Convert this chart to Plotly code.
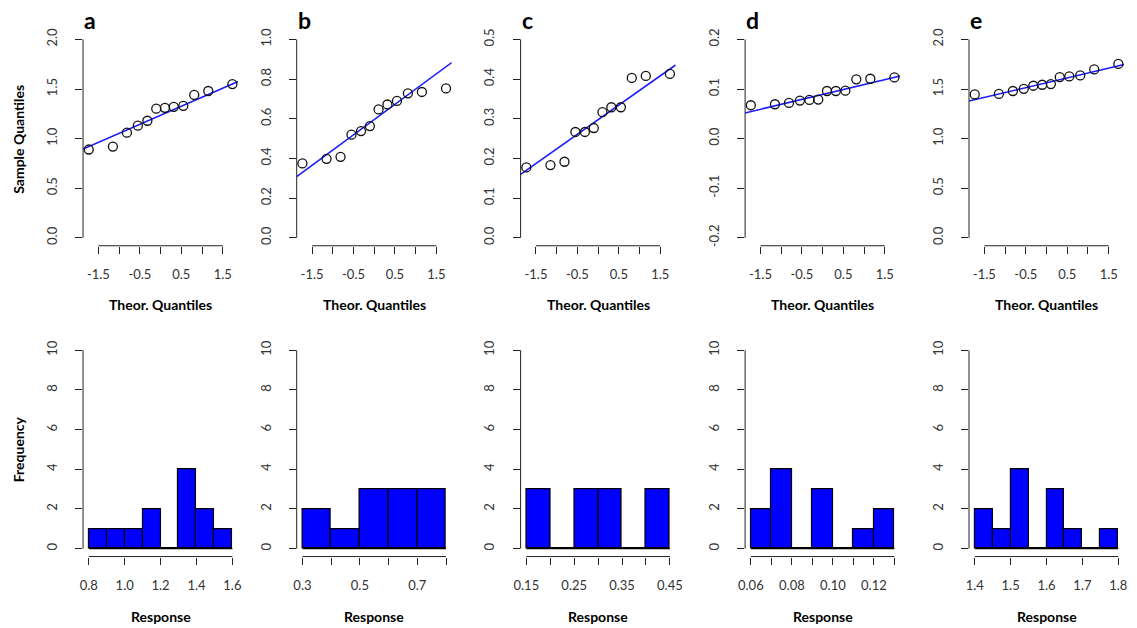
import numpy as np
import plotly.graph_objects as go

# ---------------- data ----------------
PANEL_LETTERS = ["a", "b", "c", "d", "e"]

# theoretical normal quantiles for n = 12 (qnorm(ppoints(12)))
THEOR_Q = [-1.7317, -1.1503, -0.8122, -0.5485, -0.3186, -0.1046,
           0.1046, 0.3186, 0.5485, 0.8122, 1.1503, 1.7317]

# sorted sample values
SAMPLE_A = [0.89, 0.92, 1.06, 1.13, 1.18, 1.302, 1.31, 1.32, 1.33, 1.44, 1.48, 1.55]
SAMPLE_B = [0.375, 0.398, 0.408, 0.52, 0.538, 0.563, 0.647, 0.672, 0.69, 0.728, 0.735, 0.753]
SAMPLE_C = [0.1775, 0.1833, 0.1917, 0.2667, 0.2667, 0.2767, 0.3167, 0.329, 0.329, 0.403, 0.408, 0.413]
SAMPLE_D = [0.0673, 0.0693, 0.072, 0.0767, 0.078, 0.0787, 0.096, 0.096, 0.0967, 0.1195, 0.1207, 0.1233]
SAMPLE_E = [1.445, 1.45, 1.48, 1.502, 1.533, 1.543, 1.55, 1.62, 1.627, 1.637, 1.697, 1.753]

# QQ y-axis ticks
QQ_YTICKS_A = [0.0, 0.5, 1.0, 1.5, 2.0]
QQ_YTICKS_B = [0.0, 0.2, 0.4, 0.6, 0.8, 1.0]
QQ_YTICKS_C = [0.0, 0.1, 0.2, 0.3, 0.4, 0.5]
QQ_YTICKS_D = [-0.2, -0.1, 0.0, 0.1, 0.2]
QQ_YTICKS_E = [0.0, 0.5, 1.0, 1.5, 2.0]
QQ_YLABELS_A = ["0.0", "0.5", "1.0", "1.5", "2.0"]
QQ_YLABELS_B = ["0.0", "0.2", "0.4", "0.6", "0.8", "1.0"]
QQ_YLABELS_C = ["0.0", "0.1", "0.2", "0.3", "0.4", "0.5"]
QQ_YLABELS_D = ["-0.2", "-0.1", "0.0", "0.1", "0.2"]
QQ_YLABELS_E = ["0.0", "0.5", "1.0", "1.5", "2.0"]

QQ_XTICKS = [-1.5, -1.0, -0.5, 0.0, 0.5, 1.0, 1.5]
QQ_XLABELS = ["-1.5", "", "-0.5", "", "0.5", "", "1.5"]

# histogram bins and counts
HIST_EDGES_A = [0.8, 0.9, 1.0, 1.1, 1.2, 1.3, 1.4, 1.5, 1.6]
HIST_COUNTS_A = [1, 1, 1, 2, 0, 4, 2, 1]
HIST_EDGES_B = [0.3, 0.4, 0.5, 0.6, 0.7, 0.8]
HIST_COUNTS_B = [2, 1, 3, 3, 3]
HIST_EDGES_C = [0.15, 0.20, 0.25, 0.30, 0.35, 0.40, 0.45]
HIST_COUNTS_C = [3, 0, 3, 3, 0, 3]
HIST_EDGES_D = [0.06, 0.07, 0.08, 0.09, 0.10, 0.11, 0.12, 0.13]
HIST_COUNTS_D = [2, 4, 0, 3, 0, 1, 2]
HIST_EDGES_E = [1.40, 1.45, 1.50, 1.55, 1.60, 1.65, 1.70, 1.75, 1.80]
HIST_COUNTS_E = [2, 1, 4, 0, 3, 1, 0, 1]

HIST_XTICKS_A = [0.8, 1.0, 1.2, 1.4, 1.6]
HIST_XLABELS_A = ["0.8", "1.0", "1.2", "1.4", "1.6"]
HIST_XTICKS_B = [0.3, 0.4, 0.5, 0.6, 0.7, 0.8]
HIST_XLABELS_B = ["0.3", "", "0.5", "", "0.7", ""]
HIST_XTICKS_C = [0.15, 0.20, 0.25, 0.30, 0.35, 0.40, 0.45]
HIST_XLABELS_C = ["0.15", "", "0.25", "", "0.35", "", "0.45"]
HIST_XTICKS_D = [0.06, 0.07, 0.08, 0.09, 0.10, 0.11, 0.12, 0.13]
HIST_XLABELS_D = ["0.06", "", "0.08", "", "0.10", "", "0.12", ""]
HIST_XTICKS_E = [1.4, 1.5, 1.6, 1.7, 1.8]
HIST_XLABELS_E = ["1.4", "1.5", "1.6", "1.7", "1.8"]

HIST_YTICKS = [0, 2, 4, 6, 8, 10]
HIST_YLABELS = ["0", "2", "4", "6", "8", "10"]

SAMPLES = [SAMPLE_A, SAMPLE_B, SAMPLE_C, SAMPLE_D, SAMPLE_E]
QQ_YT = [QQ_YTICKS_A, QQ_YTICKS_B, QQ_YTICKS_C, QQ_YTICKS_D, QQ_YTICKS_E]
QQ_YL = [QQ_YLABELS_A, QQ_YLABELS_B, QQ_YLABELS_C, QQ_YLABELS_D, QQ_YLABELS_E]
H_EDGES = [HIST_EDGES_A, HIST_EDGES_B, HIST_EDGES_C, HIST_EDGES_D, HIST_EDGES_E]
H_COUNTS = [HIST_COUNTS_A, HIST_COUNTS_B, HIST_COUNTS_C, HIST_COUNTS_D, HIST_COUNTS_E]
H_XT = [HIST_XTICKS_A, HIST_XTICKS_B, HIST_XTICKS_C, HIST_XTICKS_D, HIST_XTICKS_E]
H_XL = [HIST_XLABELS_A, HIST_XLABELS_B, HIST_XLABELS_C, HIST_XLABELS_D, HIST_XLABELS_E]

# ---------------- layout geometry (pixels) ----------------
W, H = 1137, 628
PANEL_LEFT = [77, 293.3, 520, 747.3, 974]
PANEL_W = 157
TOP_ROW = (28.7, 244.7)
BOT_ROW = (342, 558)

FONT = "Lato, 'Open Sans', Arial, sans-serif"
AX_COLOR = "#222222"
TXT_COLOR = "#333333"


def px_x(p):
    return p / W


def px_y(p):
    return 1 - p / H


def ext(lo, hi):
    d = (hi - lo) * 0.04
    return [lo - d, hi + d]


def axnames(n):
    suf = "" if n == 1 else str(n)
    return f"x{suf}", f"y{suf}", f"xaxis{suf}", f"yaxis{suf}"


fig = go.Figure()
layout = {}
shapes = []
annotations = []

qq_xlim = ext(min(THEOR_Q), max(THEOR_Q))

for i in range(5):
    # ---------- QQ plot ----------
    xa, ya, xk, yk = axnames(2 * i + 1)
    dom_x = [px_x(PANEL_LEFT[i]), px_x(PANEL_LEFT[i] + PANEL_W)]
    s = np.array(SAMPLES[i])
    q1, q3 = np.quantile(s, [0.25, 0.75])
    z1, z3 = -0.6744898, 0.6744898
    slope = (q3 - q1) / (z3 - z1)
    icpt = q1 - slope * z1

    fig.add_trace(go.Scatter(
        x=qq_xlim, y=[icpt + slope * qq_xlim[0], icpt + slope * qq_xlim[1]],
        mode="lines", line=dict(color="#1a1aff", width=1.6),
        xaxis=xa, yaxis=ya, showlegend=False, hoverinfo="skip"))
    fig.add_trace(go.Scatter(
        x=THEOR_Q, y=SAMPLES[i], mode="markers",
        marker=dict(symbol="circle-open", size=9, color="#111111",
                    line=dict(width=1.3, color="#111111")),
        xaxis=xa, yaxis=ya, showlegend=False))

    yt = QQ_YT[i]
    layout[xk] = dict(domain=dom_x, range=qq_xlim, anchor=ya,
                      tickmode="array", tickvals=QQ_XTICKS, ticktext=QQ_XLABELS,
                      ticks="outside", ticklen=7, tickwidth=1, tickcolor=AX_COLOR,
                      showgrid=False, zeroline=False, showline=False,
                      ticklabelstandoff=10,
                      tickfont=dict(family=FONT, size=13, color=TXT_COLOR))
    layout[yk] = dict(domain=[px_y(TOP_ROW[1]), px_y(TOP_ROW[0])],
                      range=ext(yt[0], yt[-1]), anchor=xa,
                      tickmode="array", tickvals=yt, ticktext=QQ_YL[i],
                      ticks="outside", ticklen=7, tickwidth=1, tickcolor=AX_COLOR,
                      tickangle=-90, ticklabelstandoff=13,
                      showgrid=False, zeroline=False, showline=False,
                      tickfont=dict(family=FONT, size=13, color=TXT_COLOR))
    shapes.append(dict(type="line", xref=f"{xa} domain", yref=ya, x0=0, x1=0,
                       y0=yt[0], y1=yt[-1], line=dict(color=AX_COLOR, width=1)))
    shapes.append(dict(type="line", xref=xa, yref=f"{ya} domain",
                       x0=QQ_XTICKS[0], x1=QQ_XTICKS[-1], y0=0, y1=0,
                       line=dict(color=AX_COLOR, width=1)))

    annotations.append(dict(text=f"<b>{PANEL_LETTERS[i]}</b>", xref="paper", yref="paper",
                            x=px_x(PANEL_LEFT[i] - 1), y=px_y(33), xanchor="left",
                            yanchor="bottom", showarrow=False,
                            font=dict(family=FONT, size=23, color="#000000")))
    annotations.append(dict(text="<b>Theor. Quantiles</b>", xref="paper", yref="paper",
                            x=px_x(PANEL_LEFT[i] + PANEL_W / 2), y=px_y(304),
                            xanchor="center", yanchor="middle", showarrow=False,
                            font=dict(family=FONT, size=14, color="#000000")))

    # ---------- histogram ----------
    xa, ya, xk, yk = axnames(2 * i + 2)
    edges = np.array(H_EDGES[i])
    centers = (edges[:-1] + edges[1:]) / 2
    widths = np.diff(edges)
    fig.add_trace(go.Scatter(
        x=[edges[0], edges[-1]], y=[0, 0], mode="lines",
        line=dict(color="#000000", width=1.2),
        xaxis=xa, yaxis=ya, showlegend=False, hoverinfo="skip"))
    fig.add_trace(go.Bar(
        x=centers, y=H_COUNTS[i], width=widths,
        marker=dict(color="#0000ff", line=dict(color="#000000", width=1.2)),
        xaxis=xa, yaxis=ya, showlegend=False))
    xt = H_XT[i]
    layout[xk] = dict(domain=dom_x, range=ext(edges[0], edges[-1]), anchor=ya,
                      tickmode="array", tickvals=xt, ticktext=H_XL[i],
                      ticks="outside", ticklen=7, tickwidth=1, tickcolor=AX_COLOR,
                      showgrid=False, zeroline=False, showline=False,
                      ticklabelstandoff=10,
                      tickfont=dict(family=FONT, size=13, color=TXT_COLOR))
    layout[yk] = dict(domain=[px_y(BOT_ROW[1]), px_y(BOT_ROW[0])],
                      range=ext(HIST_YTICKS[0], HIST_YTICKS[-1]), anchor=xa,
                      tickmode="array", tickvals=HIST_YTICKS, ticktext=HIST_YLABELS,
                      ticks="outside", ticklen=7, tickwidth=1, tickcolor=AX_COLOR,
                      tickangle=-90, ticklabelstandoff=13,
                      showgrid=False, zeroline=False, showline=False,
                      tickfont=dict(family=FONT, size=13, color=TXT_COLOR))
    shapes.append(dict(type="line", xref=f"{xa} domain", yref=ya, x0=0, x1=0,
                       y0=HIST_YTICKS[0], y1=HIST_YTICKS[-1],
                       line=dict(color=AX_COLOR, width=1)))
    shapes.append(dict(type="line", xref=xa, yref=f"{ya} domain",
                       x0=xt[0], x1=xt[-1], y0=0, y1=0,
                       line=dict(color=AX_COLOR, width=1)))
    annotations.append(dict(text="<b>Response</b>", xref="paper", yref="paper",
                            x=px_x(PANEL_LEFT[i] + PANEL_W / 2), y=px_y(618),
                            xanchor="center", yanchor="middle", showarrow=False,
                            font=dict(family=FONT, size=14, color="#000000")))

annotations.append(dict(text="<b>Sample Quantiles</b>", xref="paper", yref="paper",
                        x=px_x(12), y=px_y(137), textangle=-90,
                        xanchor="center", yanchor="middle", showarrow=False,
                        font=dict(family=FONT, size=14, color="#000000")))
annotations.append(dict(text="<b>Frequency</b>", xref="paper", yref="paper",
                        x=px_x(12), y=px_y(450), textangle=-90,
                        xanchor="center", yanchor="middle", showarrow=False,
                        font=dict(family=FONT, size=14, color="#000000")))

fig.update_layout(
    width=W, height=H,
    margin=dict(l=0, r=0, t=0, b=0),
    paper_bgcolor="white", plot_bgcolor="white",
    bargap=0, showlegend=False,
    shapes=shapes, annotations=annotations,
    **layout)

fig.write_html("out.html",
               config={"displayModeBar": False},
               post_script="document.body.style.margin='0';"
                           "document.body.style.overflow='hidden';")
